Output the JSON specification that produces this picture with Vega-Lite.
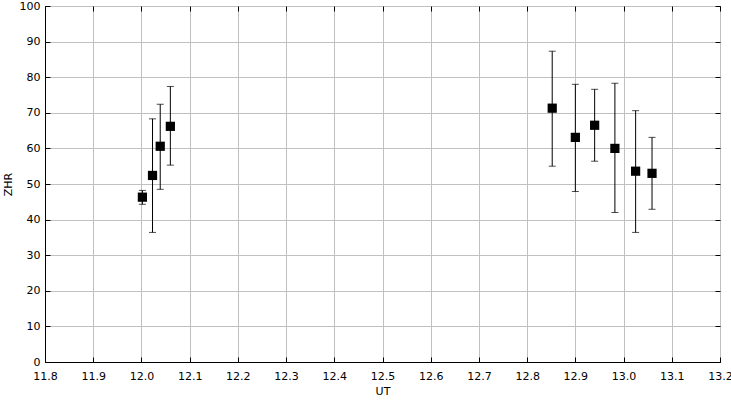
{
  "$schema": "https://vega.github.io/schema/vega-lite/v6.json",
  "width": 675,
  "height": 356,
  "autosize": "none",
  "padding": {"left": 45, "top": 6, "right": 11, "bottom": 38},
  "background": "white",
  "config": {
    "view": {"stroke": "black", "strokeWidth": 1},
    "axis": {
      "labelFont": "DejaVu Sans",
      "labelFontSize": 11,
      "labelColor": "black",
      "titleFont": "DejaVu Sans",
      "titleFontSize": 11,
      "titleFontWeight": "normal",
      "titleColor": "black",
      "domainColor": "black",
      "tickColor": "black",
      "gridColor": "#c0c0c0",
      "gridOpacity": 1,
      "labelOverlap": false,
      "labelFlush": false
    }
  },
  "data": {
    "values": [
      {"ut": 12.002, "zhr": 46.3, "lo": 44.3, "hi": 48.2},
      {"ut": 12.023, "zhr": 52.4, "lo": 36.4, "hi": 68.3},
      {"ut": 12.039, "zhr": 60.6, "lo": 48.5, "hi": 72.4},
      {"ut": 12.060, "zhr": 66.2, "lo": 55.3, "hi": 77.4},
      {"ut": 12.852, "zhr": 71.3, "lo": 55.0, "hi": 87.3},
      {"ut": 12.900, "zhr": 63.1, "lo": 47.9, "hi": 78.0},
      {"ut": 12.940, "zhr": 66.5, "lo": 56.4, "hi": 76.6},
      {"ut": 12.982, "zhr": 60.0, "lo": 42.0, "hi": 78.3},
      {"ut": 13.025, "zhr": 53.6, "lo": 36.4, "hi": 70.6},
      {"ut": 13.059, "zhr": 53.0, "lo": 42.9, "hi": 63.1}
    ]
  },
  "layer": [
    {
      "mark": {"type": "errorbar", "ticks": {"size": 7, "color": "black"}, "rule": {"color": "black", "strokeWidth": 1}},
      "encoding": {
        "x": {"field": "ut", "type": "quantitative",
              "scale": {"domain": [11.8, 13.2], "nice": false, "zero": false},
              "axis": {"title": "UT", "values": [11.8,11.9,12.0,12.1,12.2,12.3,12.4,12.5,12.6,12.7,12.8,12.9,13.0,13.1,13.2], "format": ".1f", "tickSize": -5, "labelPadding": 13, "titlePadding": 4, "grid": true}},
        "y": {"field": "lo", "type": "quantitative",
              "scale": {"domain": [0, 100], "nice": false},
              "axis": {"title": "ZHR", "values": [0,10,20,30,40,50,60,70,80,90,100], "tickSize": -5, "labelPadding": 10, "titlePadding": 6, "grid": true}},
        "y2": {"field": "hi"}
      }
    },
    {
      "mark": {"type": "square", "size": 85, "color": "black", "opacity": 1, "filled": true},
      "encoding": {
        "x": {"field": "ut", "type": "quantitative", "axis": null},
        "y": {"field": "zhr", "type": "quantitative", "axis": null}
      }
    },
    {
      "mark": {"type": "point", "opacity": 0},
      "encoding": {
        "x": {"field": "ut", "type": "quantitative",
              "axis": {"orient": "top", "title": null, "labels": false, "grid": false, "domain": false, "values": [11.8,11.9,12.0,12.1,12.2,12.3,12.4,12.5,12.6,12.7,12.8,12.9,13.0,13.1,13.2], "tickSize": -5}},
        "y": {"field": "zhr", "type": "quantitative",
              "axis": {"orient": "right", "title": null, "labels": false, "grid": false, "domain": false, "values": [0,10,20,30,40,50,60,70,80,90,100], "tickSize": -5}}
      }
    }
  ],
  "resolve": {"axis": {"x": "independent", "y": "independent"}}
}
